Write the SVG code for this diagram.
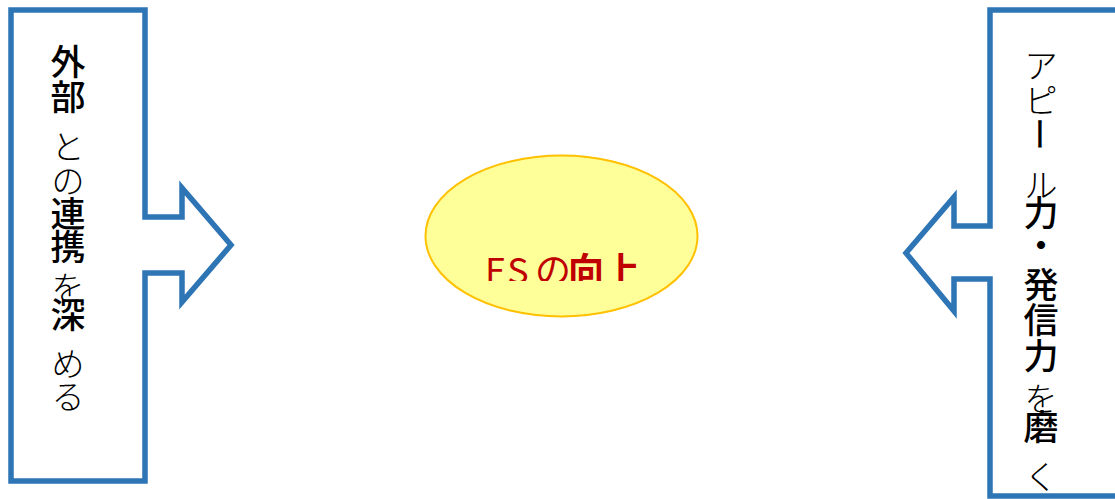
<svg xmlns="http://www.w3.org/2000/svg" width="1115" height="499" viewBox="0 0 1115 499">
<style>
.callout{fill:#FFFFFF;stroke:#2E75B6;stroke-width:5.5;stroke-linejoin:miter}
.k{font-family:"Noto Sans CJK JP","Noto Sans",sans-serif;font-size:35px;font-weight:500;fill:#000000;text-anchor:middle}
.h{font-family:"Noto Sans CJK JP","Noto Sans",sans-serif;font-size:33px;font-weight:300;fill:#000000;text-anchor:middle}
.es{font-family:"Noto Sans CJK JP","Noto Sans",sans-serif;font-size:36px;fill:#C00000}
</style>
<defs>
<clipPath id="clipES"><rect x="420" y="200" width="280" height="81"/></clipPath>
</defs>
<rect width="1115" height="499" fill="#FFFFFF"/>
<g id="connectors"></g>
<g id="left-callout">
<path class="callout" d="M11,10 H145 V217 H182 V188 L231,245 L182,302 V273 H145 V481 H11 Z"/>
<text class="k" x="68" y="75">外</text>
<text class="k" x="68" y="110">部</text>
<text class="h" x="68" y="159">と</text>
<text class="h" x="68" y="193">の</text>
<text class="k" x="68" y="227">連</text>
<text class="k" x="68" y="260">携</text>
<text class="h" x="68" y="300">を</text>
<text class="k" x="68" y="328">深</text>
<text class="h" x="68" y="376">め</text>
<text class="h" x="68" y="409">る</text>
</g>
<g id="center-ellipse">
<ellipse cx="561.5" cy="236" rx="136" ry="80.5" fill="#FFFF99" stroke="#FFC000" stroke-width="2"/>
<text class="es" clip-path="url(#clipES)" y="284"><tspan x="485" letter-spacing="1">ES</tspan><tspan x="535">の</tspan><tspan x="568" font-weight="700">向上</tspan></text>
</g>
<g id="right-callout">
<path class="callout" d="M1117,10 H990 V226 H954 V197 L906,253 L954,311 V279 H990 V496 H1117"/>
<text class="h" x="1041" y="78">ア</text>
<text class="h" x="1041" y="113">ピ</text>
<text class="h" x="1041" y="134" font-size="42" font-weight="700" stroke="#000000" stroke-width="1.4" transform="rotate(90 1041 134)" dominant-baseline="central">ー</text>
<text class="h" x="1041" y="197">ル</text>
<text class="k" x="1041" y="226">力</text>
<text class="k" x="1041" y="258">・</text>
<text class="k" x="1041" y="298">発</text>
<text class="k" x="1041" y="333">信</text>
<text class="k" x="1041" y="369">力</text>
<text class="h" x="1041" y="411">を</text>
<text class="k" x="1041" y="440">磨</text>
<text class="h" x="1041" y="489">く</text>
</g>
</svg>
